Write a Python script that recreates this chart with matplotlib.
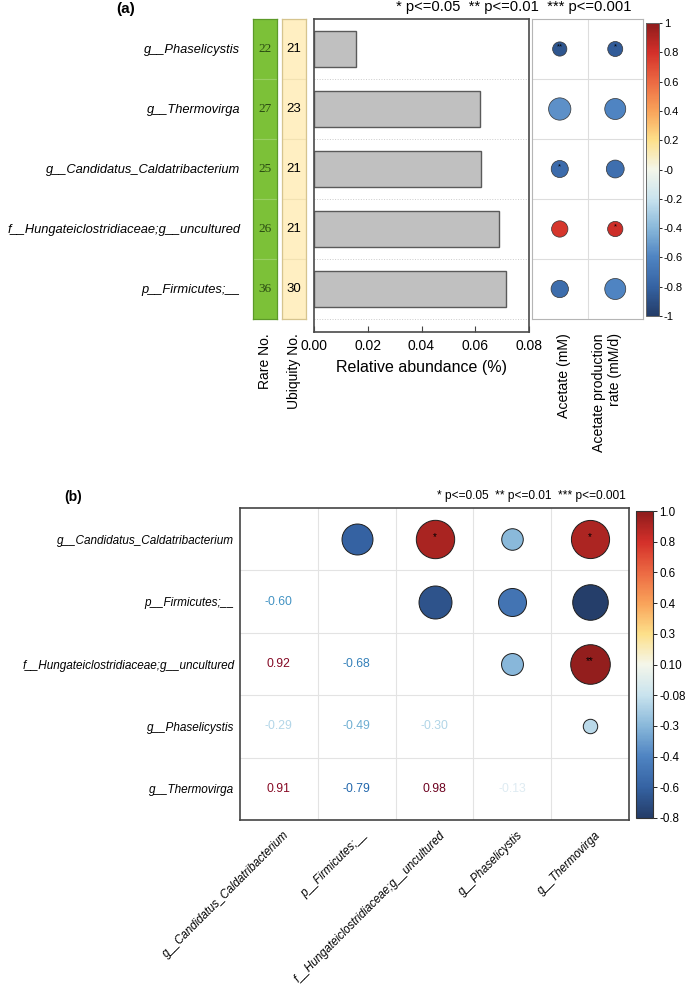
import numpy as np
import matplotlib
matplotlib.use("Agg")
import matplotlib.pyplot as plt
from matplotlib.colors import LinearSegmentedColormap, Normalize
from matplotlib.cm import ScalarMappable

plt.rcParams['font.family'] = ['Liberation Sans', 'DejaVu Sans']

# ---- data, panel (a) ----
taxa_a = ["g__Phaselicystis", "g__Thermovirga", "g__Candidatus_Caldatribacterium",
          "f__Hungateiclostridiaceae;g__uncultured", "p__Firmicutes;__"]
rare_no = [22, 27, 25, 26, 36]
ubiquity_no = [21, 23, 21, 21, 30]
rel_abund = [0.0158, 0.0619, 0.0623, 0.0687, 0.0713]
env_vars = ["Acetate (mM)", "Acetate production\nrate (mM/d)"]
# correlation with acetate / acetate production rate
r_acetate = [-0.86, -0.55, -0.75, 0.78, -0.74]
r_rate = [-0.83, -0.60, -0.72, 0.82, -0.60]
sig_acetate = ["**", "", "*", "", ""]
sig_rate = ["*", "", "", "*", ""]

# ---- data, panel (b) ----
taxa_b = ["g__Candidatus_Caldatribacterium", "p__Firmicutes;__",
          "f__Hungateiclostridiaceae;g__uncultured", "g__Phaselicystis", "g__Thermovirga"]
corr_b = np.array([
    [1.00, -0.60, 0.92, -0.29, 0.91],
    [-0.60, 1.00, -0.68, -0.49, -0.79],
    [0.92, -0.68, 1.00, -0.30, 0.98],
    [-0.29, -0.49, -0.30, 1.00, -0.13],
    [0.91, -0.79, 0.98, -0.13, 1.00],
])
sig_b = {(0, 2): "*", (0, 4): "*", (2, 4): "**"}
cbar_b_labels = ["-0.8", "-0.6", "-0.4", "-0.3", "-0.08", "0.10", "0.3", "0.4", "0.6", "0.8", "1.0"]

W, H = 685, 986
fig = plt.figure(figsize=(W / 100, H / 100), dpi=100)


def rect(x0, y0, x1, y1):
    return [x0 / W, 1 - y1 / H, (x1 - x0) / W, (y1 - y0) / H]


cmap = LinearSegmentedColormap.from_list("corr", [
    (0.0, '#243c68'), (0.1, '#3563a3'), (0.2, '#4f84c2'), (0.3, '#89b8da'),
    (0.4, '#c9e3ee'), (0.5, '#f4f6ea'), (0.6, '#fde08a'), (0.7, '#f9a35a'),
    (0.8, '#ec6a43'), (0.9, '#d4302a'), (1.0, '#8e1c1c')])

n = len(taxa_a)
ypos = np.arange(n)

# ---------------- panel (a) ----------------
fig.text(126 / W, 1 - 9 / H, "(a)", fontsize=11, fontweight='bold', ha='center', va='center')
fig.text(514 / W, 1 - 7 / H, "* p<=0.05  ** p<=0.01  *** p<=0.001", fontsize=10.6,
         ha='center', va='center')

# rare / ubiquity columns
for x0, x1, vals, fc, ec, sep, fam, col, fs, lab in [
        (253, 277, rare_no, '#7cc138', '#5c9a28', '#98cf62', 'Liberation Serif', '#2a4a12', 9.5, "Rare No."),
        (282, 306, ubiquity_no, '#ffefc2', '#d6c48e', '#f2e2b2', 'Liberation Sans', 'black', 9.5, "Ubiquity No.")]:
    ax = fig.add_axes(rect(x0, 19, x1, 319))
    ax.barh(ypos, 1, height=1, left=0, color=fc, edgecolor=sep, linewidth=0.8)
    ax.set_xlim(0, 1)
    ax.set_ylim(n - 0.5, -0.5)
    for s in ax.spines.values():
        s.set_color(ec)
        s.set_linewidth(0.9)
    ax.set_xticks([])
    ax.set_yticks([])
    for y, v in zip(ypos, vals):
        ax.text(0.5, y, str(v), ha='center', va='center', fontsize=fs, color=col, family=fam)
    fig.text((x0 + x1) / 2 / W, 1 - 333 / H, lab, rotation=90, ha='center', va='top', fontsize=10)
    if x0 == 253:
        ax.set_yticks(ypos)
        ax.set_yticklabels(taxa_a, fontstyle='italic', fontsize=9.3)
        ax.tick_params(axis='y', length=0, pad=9)

# bar chart
axb = fig.add_axes(rect(314, 19, 529, 332))
axb.barh(ypos, rel_abund, height=0.6, color='#c0c0c0', edgecolor='#5a5a5a', linewidth=1)
axb.set_xlim(0, 0.08)
axb.set_ylim(n - 0.5 + 13 / 60, -0.5)
for b in np.arange(0.5, n + 0.5, 1):
    axb.axhline(b, color='#cccccc', linestyle=':', linewidth=0.7, zorder=0)
axb.set_yticks([])
axb.set_xticks(np.arange(0, 0.081, 0.02))
axb.set_xticklabels([f"{v:.2f}" for v in np.arange(0, 0.081, 0.02)], fontsize=10)
axb.tick_params(axis='x', direction='in', length=4, pad=5, color='#444444')
for s in axb.spines.values():
    s.set_color('#4a4a4a')
    s.set_linewidth(1.2)
axb.set_xlabel("Relative abundance (%)", fontsize=11.5, labelpad=5)

# correlation dots
axd = fig.add_axes(rect(532, 19, 643, 319))
norm_a = Normalize(-1, 1)
for j, (rv, sg) in enumerate([(r_acetate, sig_acetate), (r_rate, sig_rate)]):
    rv = np.array(rv)
    diam = 36.6 - 26 * np.abs(rv)
    axd.scatter(np.full(n, j), ypos, s=(diam * 0.72) ** 2, c=cmap(norm_a(rv)),
                edgecolors='#333333', linewidths=0.5, zorder=3)
    for y, t in zip(ypos, sg):
        if t:
            axd.text(j, y - 0.03, t, ha='center', va='center', fontsize=5.5, zorder=4)
axd.set_xlim(-0.5, 1.5)
axd.set_ylim(n - 0.5, -0.5)
axd.axvline(0.5, color='#dddddd', linewidth=0.8, zorder=0)
for b in np.arange(0.5, n - 0.5, 1):
    axd.axhline(b, color='#dddddd', linewidth=0.8, zorder=0)
axd.set_xticks([])
axd.set_yticks([])
for s in axd.spines.values():
    s.set_color('#b5b5b5')
fig.text(564 / W, 1 - 333 / H, env_vars[0], rotation=90, ha='center', va='top', fontsize=10.2)
fig.text(607 / W, 1 - 333 / H, env_vars[1], rotation=90, ha='center', va='top',
         fontsize=10.2, multialignment='right', linespacing=1.1)

cax1 = fig.add_axes(rect(646, 23, 659, 316))
cb1 = fig.colorbar(ScalarMappable(norm=norm_a, cmap=cmap), cax=cax1)
t1 = np.round(np.arange(-1, 1.01, 0.2), 1)
cb1.set_ticks(t1)
cb1.set_ticklabels([f"{v:g}" for v in t1])
cb1.ax.tick_params(labelsize=8, length=2.5, width=0.6, pad=1)
cb1.outline.set_edgecolor('#666666')
cb1.outline.set_linewidth(0.7)

# ---------------- panel (b) ----------------
fig.text(73 / W, 1 - 497 / H, "(b)", fontsize=10, fontweight='bold', ha='center', va='center')
fig.text(531 / W, 1 - 496 / H, "* p<=0.05  ** p<=0.01  *** p<=0.001", fontsize=8.6,
         ha='center', va='center')

m = len(taxa_b)
tick_vals = np.array([float(t) for t in cbar_b_labels])
tick_pos = np.linspace(0, 1, len(tick_vals))
text_cmap = plt.get_cmap('RdBu_r')

axm = fig.add_axes(rect(240, 508, 629, 820))
for i in range(m):
    for j in range(m):
        r = corr_b[i, j]
        if j > i:
            d = 40 * np.sqrt(abs(r))
            axm.scatter(j, i, s=(d * 0.72) ** 2, color=cmap(np.interp(r, tick_vals, tick_pos)),
                        edgecolors='#1e1e1e', linewidths=0.7, zorder=3)
            if (i, j) in sig_b:
                axm.text(j, i - 0.04, sig_b[(i, j)], ha='center', va='center', fontsize=7, zorder=4)
        elif j < i:
            axm.text(j, i, f"{r:.2f}", ha='center', va='center', fontsize=8.8,
                     color=text_cmap(Normalize(-1, 1)(r)))
axm.set_xlim(-0.5, m - 0.5)
axm.set_ylim(m - 0.5, -0.5)
for b in np.arange(0.5, m - 0.5, 1):
    axm.axhline(b, color='#e3e3e3', linewidth=0.8, zorder=0)
    axm.axvline(b, color='#e3e3e3', linewidth=0.8, zorder=0)
for s in axm.spines.values():
    s.set_color('#444444')
    s.set_linewidth(1.2)
axm.set_yticks(range(m))
axm.set_yticklabels(taxa_b, fontstyle='italic', fontsize=8.5)
axm.tick_params(axis='y', length=0, pad=4)
axm.set_xticks([])
for j, name in enumerate(taxa_b):
    cx = 240 + 78 * (j + 0.5) + 4
    fig.text(cx / W, 1 - 829 / H, name, rotation=45, rotation_mode='anchor', ha='right',
             va='top', fontsize=8.3, fontstyle='italic')

cax2 = fig.add_axes(rect(636, 511, 653, 818))
cb2 = fig.colorbar(ScalarMappable(norm=Normalize(0, 1), cmap=cmap), cax=cax2)
cb2.set_ticks(tick_pos)
cb2.set_ticklabels(cbar_b_labels)
cb2.ax.tick_params(labelsize=8.4, length=3, width=0.6, pad=1.5)
cb2.outline.set_edgecolor('#333333')
cb2.outline.set_linewidth(0.8)

fig.savefig("out.png", dpi=100)
